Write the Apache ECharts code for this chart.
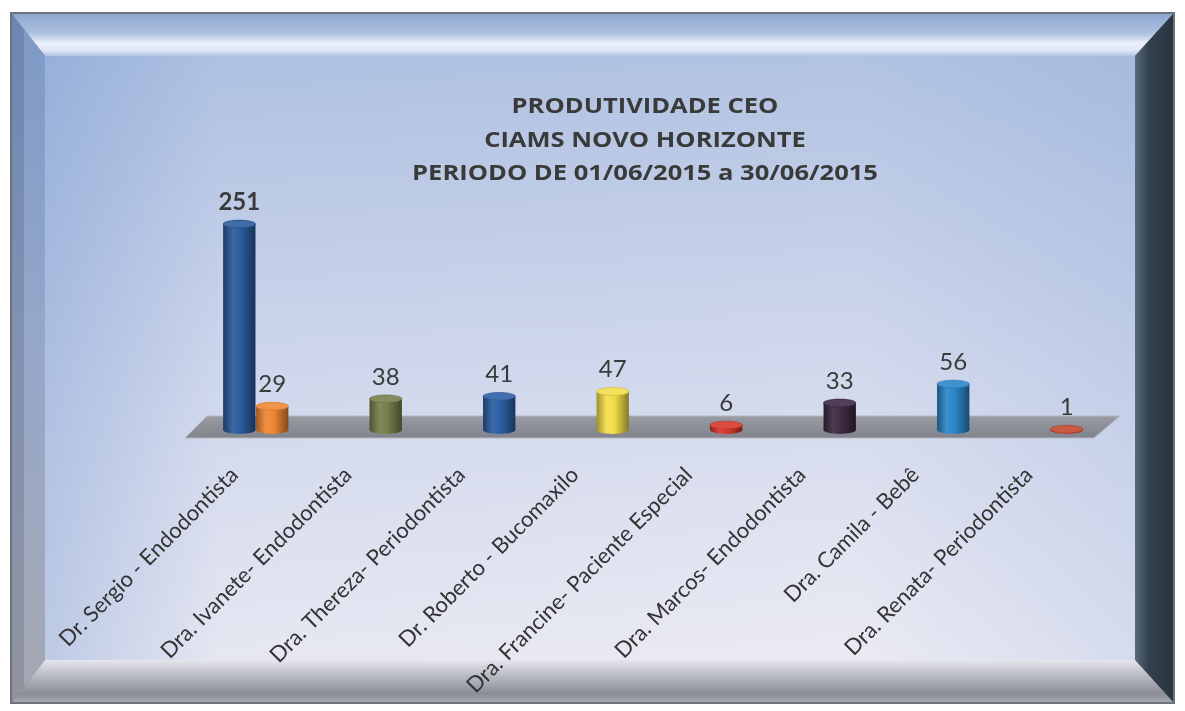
<!DOCTYPE html>
<html>
<head>
<meta charset="utf-8">
<script src="https://cdn.jsdelivr.net/npm/echarts@6/dist/echarts.min.js"></script>
<style>
  html, body { margin: 0; padding: 0; background: #ffffff; }
  #chart { width: 1185px; height: 711px; }
</style>
</head>
<body>
<div id="chart"></div>
<script>
// Produtividade por profissional, junho de 2015
const categorias = [
  'Dr. Sergio - Endodontista',
  'Dra. Ivanete- Endodontista',
  'Dra. Thereza- Periodontista',
  'Dr. Roberto - Bucomaxilo',
  'Dra. Francine- Paciente Especial',
  'Dra. Marcos- Endodontista',
  'Dra. Camila - Bebê',
  'Dra. Renata- Periodontista'
];
const serieDestaque = [251, null, null, null, null, null, null, null];
const serieProdutividade = [29, 38, 41, 47, 6, 33, 56, 1];
const coresDestaque = ['#2a5b9c'];
const coresProdutividade = ['#ee8732', '#76804b', '#2c5ea5', '#f3dc48', '#d8372b', '#3d2a43', '#2b86ca', '#c4472f'];
const titulo = ['PRODUTIVIDADE CEO', 'CIAMS NOVO HORIZONTE', 'PERIODO DE 01/06/2015 a 30/06/2015'];

const FONT = 'Lato, "Open Sans", sans-serif';

function shade(hex, f) {
  // f < 0 darkens, f > 0 lightens
  const n = parseInt(hex.slice(1), 16);
  let r = (n >> 16) & 255, g = (n >> 8) & 255, b = n & 255;
  const m = c => Math.round(f < 0 ? c * (1 + f) : c + (255 - c) * f);
  return 'rgb(' + m(r) + ',' + m(g) + ',' + m(b) + ')';
}

// 3D cylinder drawn on the category/value scales
function cilindro(offsetFrac, cores, negrito) {
  return function (params, api) {
    const v = api.value(1);
    if (v == null || isNaN(v)) return;
    const idx = api.value(0);
    const band = api.size([1, 0])[0];
    const base = api.coord([idx, 0]);
    const topo = api.coord([idx, v]);
    const cx = base[0] + band * offsetFrac;
    const w = band * 0.285;
    const ry = w * 0.12;
    const c = cores[idx % cores.length];
    const corpo = {
      type: 'linear', x: 0, y: 0, x2: 1, y2: 0,
      colorStops: [
        { offset: 0, color: shade(c, -0.35) },
        { offset: 0.3, color: shade(c, 0.08) },
        { offset: 0.55, color: c },
        { offset: 1, color: shade(c, -0.45) }
      ]
    };
    return {
      type: 'group',
      children: [
        { type: 'ellipse', shape: { cx: cx, cy: base[1], rx: w / 2, ry: ry }, style: { fill: corpo } },
        { type: 'rect', shape: { x: cx - w / 2, y: topo[1], width: w, height: base[1] - topo[1] }, style: { fill: corpo } },
        { type: 'ellipse', shape: { cx: cx, cy: topo[1], rx: w / 2, ry: ry }, style: { fill: shade(c, 0.1), stroke: shade(c, -0.15), lineWidth: 0.6 } },
        {
          type: 'text',
          x: cx, y: topo[1] - ry - 6,
          style: {
            text: String(v), textAlign: 'center', textVerticalAlign: 'bottom',
            fill: '#3a3a3a', font: (negrito ? 'bold ' : '') + '24px ' + FONT
          }
        }
      ]
    };
  };
}

const chart = echarts.init(document.getElementById('chart'), null, { renderer: 'canvas' });

const fundo = [
  // outer border
  { type: 'rect', z: -20, shape: { x: 10, y: 12, width: 1165, height: 692 }, style: { fill: '#6f7278' } },
  // top bevel
  { type: 'polygon', z: -19, shape: { points: [[12, 14], [1173, 14], [1135, 56], [45, 56]] },
    style: { fill: { type: 'linear', x: 0, y: 0, x2: 0, y2: 1, colorStops: [
      { offset: 0, color: '#8ea6ce' }, { offset: 0.45, color: '#adc0e0' },
      { offset: 0.7, color: '#eaf0f9' }, { offset: 0.88, color: '#dde6f4' }, { offset: 1, color: '#b2c3e1' } ] } } },
  // left bevel
  { type: 'polygon', z: -19, shape: { points: [[12, 14], [45, 56], [45, 660], [12, 702]] },
    style: { fill: { type: 'linear', x: 0, y: 0, x2: 0, y2: 1, colorStops: [
      { offset: 0, color: '#7d99c7' }, { offset: 0.5, color: '#97a8ca' }, { offset: 1, color: '#a6a8b1' } ] } } },
  { type: 'polygon', z: -18, shape: { points: [[12, 14], [24, 30], [24, 686], [12, 702]] },
    style: { fill: 'rgba(40,50,70,0.18)' } },
  // right bevel
  { type: 'polygon', z: -19, shape: { points: [[1173, 14], [1135, 56], [1135, 660], [1173, 702]] },
    style: { fill: { type: 'linear', x: 0, y: 0, x2: 1, y2: 0, colorStops: [
      { offset: 0, color: '#5a6b80' }, { offset: 0.35, color: '#33414f' }, { offset: 1, color: '#2a3440' } ] } } },
  // bottom bevel
  { type: 'polygon', z: -19, shape: { points: [[45, 660], [1135, 660], [1173, 702], [12, 702]] },
    style: { fill: { type: 'linear', x: 0, y: 0, x2: 0, y2: 1, colorStops: [
      { offset: 0, color: '#e5e5ee' }, { offset: 0.35, color: '#bcbec7' },
      { offset: 0.8, color: '#8b8e96' }, { offset: 1, color: '#a5a7ae' } ] } } },
  // inner panel
  { type: 'rect', z: -17, shape: { x: 45, y: 56, width: 1090, height: 604 },
    style: { fill: { type: 'linear', x: 0, y: 0, x2: 0, y2: 1, colorStops: [
      { offset: 0, color: '#b1c3e2' }, { offset: 0.3, color: '#c4cfe8' },
      { offset: 0.6, color: '#d6dcee' }, { offset: 1, color: '#eaeaf3' } ] } } },
  { type: 'rect', z: -16, shape: { x: 45, y: 56, width: 1090, height: 604 },
    style: { fill: { type: 'linear', x: 0, y: 0, x2: 1, y2: 0, colorStops: [
      { offset: 0, color: 'rgba(95,135,200,0.32)' }, { offset: 0.16, color: 'rgba(95,135,200,0.03)' },
      { offset: 0.75, color: 'rgba(95,135,200,0)' }, { offset: 1, color: 'rgba(95,135,200,0.14)' } ] } } }
];

// three-line heading, slightly widened
const tituloLinhas = titulo.map((t, i) => ({
  type: 'text', z: 5,
  x: 645, y: 107 + i * 33.5,
  scaleX: 1.16, scaleY: 1,
  style: {
    text: t, textAlign: 'center', textVerticalAlign: 'middle',
    font: 'bold 22px "Open Sans", Lato, sans-serif', fill: '#3a3a3a'
  }
}));

const option = {
  backgroundColor: '#ffffff',
  animation: false,
  grid: { left: 199, right: 78, top: 216.6, bottom: 281, containLabel: false },
  xAxis: {
    type: 'category',
    data: categorias,
    axisLine: { show: false },
    axisTick: { show: false },
    splitLine: { show: false },
    axisLabel: {
      interval: 0,
      rotate: 45,
      margin: 20,
      padding: [0, 30, 0, 0],
      fontFamily: FONT,
      fontSize: 22,
      color: '#333333'
    }
  },
  yAxis: { type: 'value', min: 0, max: 260, show: false, splitLine: { show: false } },
  graphic: { elements: fundo.concat(tituloLinhas) },
  series: [
    {
      name: 'Destaque', type: 'custom', z: 3, clip: false,
      renderItem: cilindro(-0.145, coresDestaque, true),
      data: serieDestaque.map((v, i) => [i, v]).filter(d => d[1] != null)
    },
    {
      name: 'Produtividade', type: 'custom', z: 3, clip: false,
      renderItem: cilindro(0.145, coresProdutividade, false),
      data: serieProdutividade.map((v, i) => [i, v])
    }
  ]
};
chart.setOption(option);

// floor plane placed from the axis scales
const c0 = chart.convertToPixel({ xAxisIndex: 0 }, 0);
const c1 = chart.convertToPixel({ xAxisIndex: 0 }, 1);
const band = c1 - c0;
const esq = c0 - band / 2;
const dir = chart.convertToPixel({ xAxisIndex: 0 }, categorias.length - 1) + band / 2;
const y0 = chart.convertToPixel({ yAxisIndex: 0 }, 0);
chart.setOption({
  graphic: {
    elements: fundo.concat(tituloLinhas, [
      { type: 'polygon', z: 1,
        shape: { points: [[esq + 8, y0 - 14], [dir + 13, y0 - 14], [dir - 13, y0 + 8], [esq - 14, y0 + 8]] },
        style: { fill: { type: 'linear', x: 0, y: 0, x2: 0, y2: 1, colorStops: [
          { offset: 0, color: '#9a9da4' }, { offset: 0.5, color: '#8c8f97' }, { offset: 1, color: '#80838b' } ] },
          stroke: '#b4b7be', lineWidth: 1 } }
    ])
  }
});
</script>
</body>
</html>
